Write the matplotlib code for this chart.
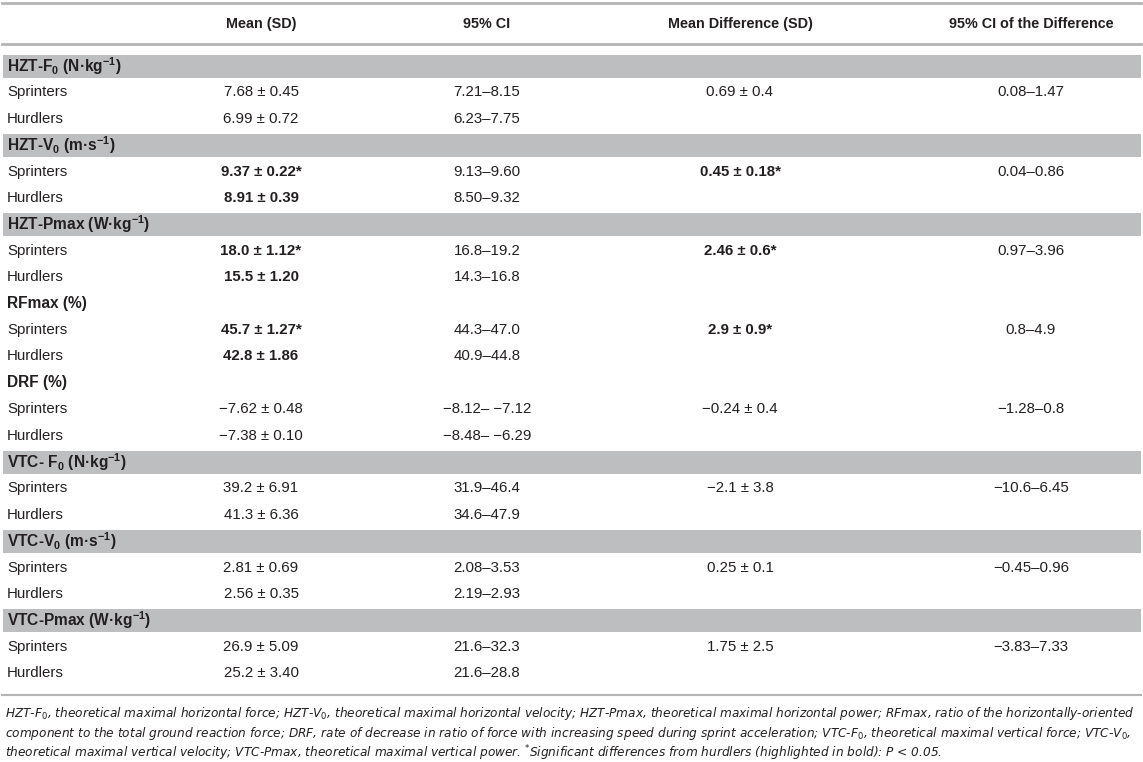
import matplotlib
matplotlib.use("Agg")
import matplotlib.pyplot as plt
from matplotlib.patches import Rectangle

plt.rcParams['font.family'] = ['Liberation Sans', 'DejaVu Sans']
plt.rcParams['mathtext.fontset'] = 'custom'
plt.rcParams['mathtext.rm'] = 'Liberation Sans'
plt.rcParams['mathtext.it'] = 'Liberation Sans:italic'
plt.rcParams['mathtext.bf'] = 'Liberation Sans:bold'

# table content
headers = ["Mean (SD)", "95% CI", "Mean Difference (SD)", "95% CI of the Difference"]
sections = [r"HZT-F$_\mathbf{0}$ (N·kg$^{\mathbf{-1}}$)",
            r"HZT-V$_\mathbf{0}$ (m·s$^{\mathbf{-1}}$)",
            r"HZT-Pmax (W·kg$^{\mathbf{-1}}$)",
            "RFmax (%)",
            "DRF (%)",
            r"VTC- F$_\mathbf{0}$ (N·kg$^{\mathbf{-1}}$)",
            r"VTC-V$_\mathbf{0}$ (m·s$^{\mathbf{-1}}$)",
            r"VTC-Pmax (W·kg$^{\mathbf{-1}}$)"]
shaded = [True, True, True, False, False, True, True, True]
bold_means = [False, True, True, True, False, False, False, False]
groups = ["Sprinters", "Hurdlers"]

sprint_mean = ["7.68 ± 0.45", "9.37 ± 0.22*", "18.0 ± 1.12*", "45.7 ± 1.27*",
               "−7.62 ± 0.48", "39.2 ± 6.91", "2.81 ± 0.69", "26.9 ± 5.09"]
hurdle_mean = ["6.99 ± 0.72", "8.91 ± 0.39", "15.5 ± 1.20", "42.8 ± 1.86",
               "−7.38 ± 0.10", "41.3 ± 6.36", "2.56 ± 0.35", "25.2 ± 3.40"]
sprint_ci = ["7.21–8.15", "9.13–9.60", "16.8–19.2", "44.3–47.0",
             "−8.12– −7.12", "31.9–46.4", "2.08–3.53", "21.6–32.3"]
hurdle_ci = ["6.23–7.75", "8.50–9.32", "14.3–16.8", "40.9–44.8",
             "−8.48– −6.29", "34.6–47.9", "2.19–2.93", "21.6–28.8"]
mean_diff = ["0.69 ± 0.4", "0.45 ± 0.18*", "2.46 ± 0.6*", "2.9 ± 0.9*",
             "−0.24 ± 0.4", "−2.1 ± 3.8", "0.25 ± 0.1", "1.75 ± 2.5"]
ci_diff = ["0.08–1.47", "0.04–0.86", "0.97–3.96", "0.8–4.9",
           "−1.28–0.8", "−10.6–6.45", "−0.45–0.96", "−3.83–7.33"]

footnote = [
    r"HZT-F$_0$, theoretical maximal horizontal force; HZT-V$_0$, theoretical maximal horizontal velocity; "
    r"HZT-Pmax, theoretical maximal horizontal power; RFmax, ratio of the horizontally-oriented",
    r"component to the total ground reaction force; DRF, rate of decrease in ratio of force with increasing speed during "
    r"sprint acceleration; VTC-F$_0$, theoretical maximal vertical force; VTC-V$_0$,",
    r"theoretical maximal vertical velocity; VTC-Pmax, theoretical maximal vertical power. $^{*}$Significant differences "
    r"from hurdlers (highlighted in bold): P < 0.05.",
]

W, H = 1143, 762
fig = plt.figure(figsize=(W / 100, H / 100), dpi=100)
ax = fig.add_axes([0, 0, 1, 1])
ax.set_xlim(0, W)
ax.set_ylim(H, 0)
ax.axis('off')

txt = '#231f20'
line_c = '#b4b4b4'
band_c = '#bdbec0'
col_x = [261, 487, 740, 1031]
fs = 10.8
fs_head = 10.4
fs_sec = 11.2

# header
ax.plot([2, 1141], [3, 3], color=line_c, lw=2)
ax.plot([2, 1141], [44, 44], color=line_c, lw=2)
for x, h in zip(col_x, headers):
    ax.text(x, 24, h, ha='center', va='center', fontsize=fs_head, fontweight='bold', color=txt)

y0 = 66
step = 26.4
row = 0
for i, sec in enumerate(sections):
    y = y0 + row * step
    if shaded[i]:
        ax.add_patch(Rectangle((3, y - 11), 1138, 22.5, color=band_c, lw=0))
    ax.text(7, y, sec, ha='left', va='center', fontsize=fs_sec, fontweight='bold', color=txt)
    row += 1
    for j, g in enumerate(groups):
        y = y0 + row * step
        ax.text(7, y, g, ha='left', va='center', fontsize=fs, color=txt)
        m = sprint_mean[i] if j == 0 else hurdle_mean[i]
        c = sprint_ci[i] if j == 0 else hurdle_ci[i]
        ax.text(col_x[0], y, m, ha='center', va='center', fontsize=fs, color=txt,
                fontweight='bold' if bold_means[i] else 'normal')
        ax.text(col_x[1], y, c, ha='center', va='center', fontsize=fs, color=txt)
        if j == 0:
            ax.text(col_x[2], y, mean_diff[i], ha='center', va='center', fontsize=fs, color=txt,
                    fontweight='bold' if bold_means[i] else 'normal')
            ax.text(col_x[3], y, ci_diff[i], ha='center', va='center', fontsize=fs, color=txt)
        row += 1

ax.plot([2, 1141], [695, 695], color=line_c, lw=1.5)

for k, line in enumerate(footnote):
    ax.text(5, 713 + k * 20, line, ha='left', va='center', fontsize=8.7,
            family='DejaVu Sans', style='italic', math_fontfamily='dejavusans', color=txt)

fig.savefig('out.png', dpi=100)
